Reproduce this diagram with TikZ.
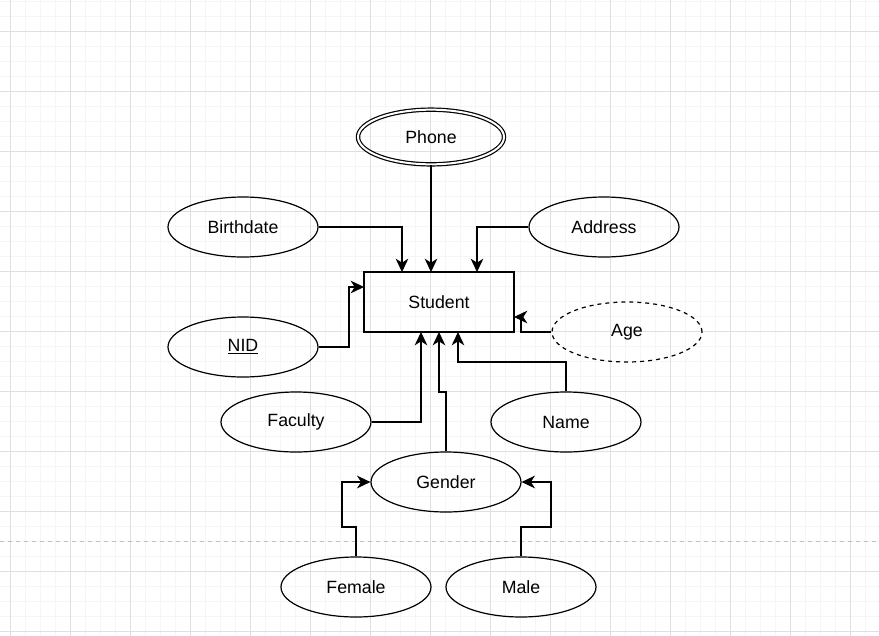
\documentclass[tikz,border=0pt]{standalone}
\usepackage{fontspec}
\setmainfont{Liberation Sans}
\usetikzlibrary{shapes.geometric,arrows.meta}
\begin{document}
\begin{tikzpicture}[x=0.75pt,y=-0.75pt,
  attr/.style={ellipse,draw,line width=0.9pt,minimum width=112.5pt,minimum height=45pt,inner sep=0pt,font=\fontsize{13.3}{15}\selectfont},
  ent/.style={rectangle,draw,line width=0.9pt,minimum width=112.5pt,minimum height=45pt,font=\fontsize{13.3}{15}\selectfont},
  con/.style={line width=0.9pt,-{Stealth[length=10pt,width=9.5pt,inset=3pt]}}]
\useasboundingbox (0,0) rectangle (879,636);
\fill[white] (0,0) rectangle (879,636);
\foreach \i in {0,...,58} \draw[gray!8,line width=0.5pt] (10+15*\i,0) -- (10+15*\i,636);
\foreach \i in {0,...,42} \draw[gray!8,line width=0.5pt] (0,1+15*\i) -- (879,1+15*\i);
\foreach \i in {0,...,14} \draw[gray!25,line width=0.6pt] (10+60*\i,0) -- (10+60*\i,636);
\foreach \i in {0,...,10} \draw[gray!25,line width=0.6pt] (0,31+60*\i) -- (879,31+60*\i);
\draw[gray!50,dashed,line width=0.6pt] (0,541) -- (879,541);

\node[ent] (student) at (439,302) {Student};
\node[attr,double,double distance=1.5pt,minimum width=109.5pt,minimum height=41pt] (phone) at (431,137) {Phone};
\node[attr] (birth) at (243,227) {Birthdate};
\node[attr] (addr) at (604,227) {Address};
\node[attr] (nid) at (243,347) {\underline{NID}};
\node[attr,dashed] (age) at (627,332) {Age};
\node[attr] (fac) at (296,422) {Faculty};
\node[attr] (name) at (566,422) {Name};
\node[attr] (gender) at (446,482) {Gender};
\node[attr] (female) at (356,587) {Female};
\node[attr] (male) at (521,587) {Male};

\draw[con] (phone.south) -- (431,272);
\draw[con] (birth.east) -| (402,272);
\draw[con] (addr.west) -| (477,272);
\draw[con] (nid.east) -- (349,347) |- (364,287);
\draw[con] (age.west) -- (521,332) |- (514,317);
\draw[con] (fac.east) -| (421,332);
\draw[con] (name.north) |- (458,362) -- (458,332);
\draw[con] (gender.north) |- (439,392) -- (439,332);
\draw[con] (female.north) |- (342,527) |- (gender.west);
\draw[con] (male.north) |- (551,527) |- (gender.east);
\end{tikzpicture}
\end{document}
